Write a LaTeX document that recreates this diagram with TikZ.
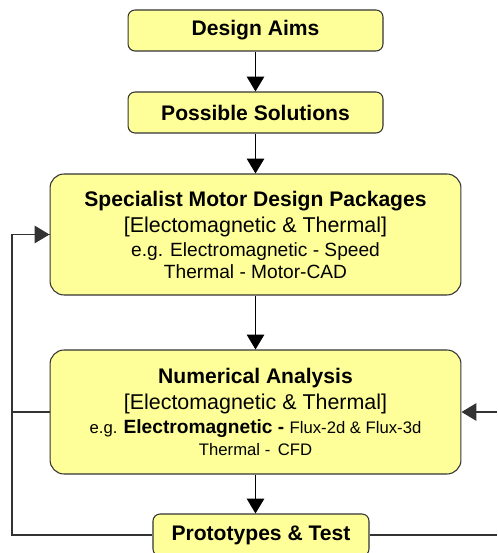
\documentclass[tikz,border=0pt]{standalone}
\usepackage{fontspec}
\setmainfont{Liberation Sans}
\usetikzlibrary{arrows.meta}
\definecolor{boxyellow}{HTML}{FFFF99}
\definecolor{linegray}{HTML}{333333}
\tikzset{
	box/.style={draw=linegray, fill=boxyellow, rounded corners=4pt, align=center, inner sep=0pt, line width=0.6pt},
	bigbox/.style={box, rounded corners=8pt, font=\fontsize{12}{13.5}\selectfont},
	flow/.style={line width=0.6pt, -{Triangle[length=8.5pt,width=10pt]}},
	link/.style={line width=0.6pt, draw=linegray}
}
\newcommand{\titlefont}{\bfseries\fontsize{12}{14}\selectfont}
\newcommand{\linefont}{\fontsize{12.2}{14}\selectfont}
\newcommand{\smallfont}{\fontsize{10.9}{13}\selectfont}
\newcommand{\tinyfont}{\fontsize{9.5}{13}\selectfont}
\begin{document}
\begin{tikzpicture}[x=0.02cm, y=-0.02cm]
	% page of 497 x 553 px
	\clip (0,0) rectangle (497,553);
	\fill[white] (0,0) rectangle (497,553);
	% les boites
	\node[box, minimum width=5.1cm, minimum height=0.82cm, font=\titlefont] (aims) at (255.5,30.5) {Design Aims};
	\node[box, minimum width=5.1cm, minimum height=0.82cm, font=\titlefont] (solutions) at (255.5,112.5) {Possible Solutions};
	\node[bigbox, minimum width=8.22cm, minimum height=2.42cm] (packages) at (255.5,234.5) {%
		{\titlefont Specialist Motor Design Packages}\\[1.5pt]
		{\linefont [Electomagnetic \& Thermal]}\\
		{\smallfont e.g. Electromagnetic - Speed}\\[-1pt]
		{\smallfont Thermal - Motor-CAD}};
	\node[bigbox, minimum width=8.22cm, minimum height=2.48cm] (numerical) at (255.5,412) {%
		{\titlefont Numerical Analysis}\\[1.5pt]
		{\linefont [Electomagnetic \& Thermal]}\\
		{\tinyfont e.g. \smallfont\bfseries Electromagnetic - \tinyfont\mdseries Flux-2d \& Flux-3d}\\[-1pt]
		{\tinyfont Thermal - \,CFD}};
	\node[box, minimum width=4.32cm, minimum height=0.84cm, font=\titlefont] (prototypes) at (261,535) {Prototypes \& Test};
	% les fleches
	\draw[flow] (aims) -- (solutions);
	\draw[flow] (solutions) -- (packages);
	\draw[flow] (packages) -- (numerical);
	\draw[flow] (numerical.south -| aims) -- (prototypes.north -| aims);
	% les boucles
	\coordinate (leftbus) at (12,535);
	\coordinate (rightbus) at (497,412);
	\draw[link] (prototypes.west) -- (leftbus) |- (packages.west);
	\draw[flow, linegray] (leftbus |- packages.west) -- (packages.west);
	\draw[link] (leftbus |- numerical.west) -- (numerical.west);
	\draw[link] (prototypes.east) -- (prototypes.east -| rightbus);
	\draw[flow, linegray] (rightbus) -- (numerical.east);
\end{tikzpicture}
\end{document}
